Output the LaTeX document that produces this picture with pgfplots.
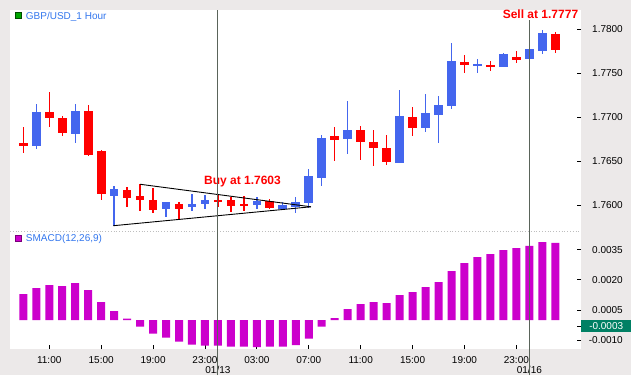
\documentclass[border=0pt]{standalone}
\usepackage{pgfplots}
\pgfplotsset{compat=1.18}
\usepackage{pgfplotstable}
\usepackage{fontspec}
\setmainfont{Liberation Sans}
\definecolor{bgcol}{RGB}{236,233,233}
\definecolor{cblue}{RGB}{68,102,238}
\definecolor{cred}{RGB}{255,0,0}
\definecolor{macd}{RGB}{204,0,204}
\definecolor{lblue}{RGB}{51,119,238}
\definecolor{vline}{RGB}{90,100,90}
\definecolor{tealbox}{RGB}{0,128,100}
\definecolor{sepcol}{RGB}{190,190,190}

\pgfplotstableread{
i o h l c
1 1.76677 1.77151 1.76643 1.77060
4 1.76814 1.77151 1.76711 1.77072
7 1.76109 1.76223 1.75768 1.76185
11 1.75955 1.76041 1.75870 1.76038
13 1.75977 1.76128 1.75939 1.76015
14 1.76018 1.76117 1.75958 1.76060
18 1.76000 1.76094 1.75958 1.76052
20 1.75961 1.76041 1.75955 1.76007
21 1.75977 1.76091 1.75916 1.76038
22 1.76023 1.76413 1.75966 1.76333
23 1.76314 1.76799 1.76223 1.76765
25 1.76757 1.77189 1.76586 1.76856
29 1.76484 1.77310 1.76480 1.77015
31 1.76882 1.77265 1.76836 1.77049
32 1.77030 1.77242 1.76711 1.77140
33 1.77132 1.77848 1.77094 1.77640
35 1.77586 1.77659 1.77507 1.77609
37 1.77575 1.77734 1.77572 1.77719
39 1.77666 1.77905 1.77628 1.77780
40 1.77757 1.77992 1.77716 1.77961
}\upcandles

\pgfplotstableread{
i o h l c
0 1.76708 1.76890 1.76598 1.76677
2 1.77064 1.77291 1.76893 1.76996
3 1.76996 1.77015 1.76791 1.76825
5 1.77072 1.77140 1.76564 1.76572
6 1.76617 1.76628 1.76060 1.76132
8 1.76170 1.76205 1.75984 1.76086
9 1.76109 1.76239 1.75939 1.76060
10 1.76060 1.76193 1.75916 1.75947
12 1.76018 1.76038 1.75841 1.75961
15 1.76061 1.76117 1.75984 1.76038
16 1.76060 1.76098 1.75927 1.75995
17 1.76012 1.76106 1.75939 1.75990
19 1.76052 1.76068 1.75958 1.75973
24 1.76791 1.76893 1.76503 1.76745
26 1.76856 1.76901 1.76518 1.76723
27 1.76719 1.76856 1.76450 1.76655
28 1.76651 1.76799 1.76458 1.76492
30 1.77003 1.77120 1.76791 1.76882
34 1.77625 1.77708 1.77507 1.77598
36 1.77598 1.77640 1.77526 1.77572
38 1.77689 1.77757 1.77621 1.77655
41 1.77947 1.77969 1.77727 1.77768
}\downcandles

\pgfplotstableread{
i v
0 0.001296
1 0.001594
2 0.001743
3 0.001694
4 0.001843
5 0.001495
6 0.000899
7 0.000452
8 0.000070
9 -0.000328
10 -0.000675
11 -0.000874
12 -0.001073
13 -0.001222
14 -0.001272
15 -0.001272
16 -0.001321
17 -0.001321
18 -0.001336
19 -0.001321
20 -0.001321
21 -0.001237
22 -0.000924
23 -0.000328
24 0.000104
25 0.000551
26 0.000800
27 0.000899
28 0.000849
29 0.001247
30 0.001396
31 0.001644
32 0.001892
33 0.002439
34 0.002836
35 0.003134
36 0.003283
37 0.003482
38 0.003581
39 0.003681
40 0.003879
41 0.003830
}\macdtable

\pgfplotsset{
  chartbase/.style={
    scale only axis, width=571pt,
    xmin=-1.025, xmax=42.98,
    axis line style={draw=none},
    tick align=inside,
    major tick length=4.5pt,
    tick style={black, line width=0.8pt},
    ytick pos=right, yticklabel pos=right,
    yticklabel style={anchor=east, inner sep=0pt, xshift=42pt},
    tick label style={font=\fontsize{10}{12}\selectfont, text=black},
    scaled y ticks=false,
    clip=false,
  },
  wick/.style={draw=none, no markers, mark size=0pt, forget plot,
    error bars/.cd, y dir=both, y explicit, error mark=none,
    error bar style={line width=1.3pt, draw=#1}},
  body/.style={draw=none, no markers, mark size=0pt, forget plot,
    error bars/.cd, y dir=both, y explicit, error mark=none,
    error bar style={line width=8.7pt, draw=#1}},
}

\begin{document}
\begin{tikzpicture}[x=1pt,y=1pt]
\useasboundingbox (0,0) rectangle (631,375);
\fill[bgcol] (0,0) rectangle (631,375);
\fill[white] (10,26) rectangle (581,365);
\draw[sepcol, dotted, line width=0.8pt] (10,143.5) -- (581,143.5);

% ---------- price panel ----------
\begin{axis}[chartbase,
  at={(10pt,144pt)}, anchor=south west, height=221pt,
  ymin=1.757079, ymax=1.782194,
  xtick=\empty,
  ytick={1.76,1.765,1.77,1.775,1.78},
  yticklabels={1.7600,1.7650,1.7700,1.7750,1.7800},
]
\addplot[wick=cblue] table[x=i, y expr={(\thisrow{h}+\thisrow{l})/2}, y error expr={(\thisrow{h}-\thisrow{l})/2}] {\upcandles};
\addplot[wick=cred] table[x=i, y expr={(\thisrow{h}+\thisrow{l})/2}, y error expr={(\thisrow{h}-\thisrow{l})/2}] {\downcandles};
\addplot[body=cblue] table[x=i, y expr={(\thisrow{o}+\thisrow{c})/2}, y error expr={(\thisrow{c}-\thisrow{o})/2}] {\upcandles};
\addplot[body=cred] table[x=i, y expr={(\thisrow{o}+\thisrow{c})/2}, y error expr={(\thisrow{o}-\thisrow{c})/2}] {\downcandles};
% triangle
\addplot[black, line width=0.9pt, forget plot] coordinates {(9,1.76239) (22.17,1.75983)};
\addplot[black, line width=0.9pt, forget plot] coordinates {(6.94,1.75768) (22.17,1.75983)};
\node[text=cred, font=\bfseries\fontsize{12}{14}\selectfont, inner sep=0pt] at (axis cs:16.89,1.76268) {Buy at 1.7603};
\end{axis}

% ---------- MACD panel ----------
\begin{axis}[chartbase,
  at={(10pt,26pt)}, anchor=south west, height=117pt,
  ymin=-0.001435, ymax=0.004376,
  ytick={-0.001,0.0005,0.002,0.0035},
  yticklabels={-0.0010,0.0005,0.0020,0.0035},
  extra y ticks={-0.0003}, extra y tick labels={},
  xtick pos=bottom, xticklabel pos=bottom,
  xtick={2,6,10,14,18,22,26,30,34,38},
  xticklabels={11:00,15:00,19:00,23:00,03:00,07:00,11:00,15:00,19:00,23:00},
  xticklabel style={yshift=-4pt},
  extra x ticks={15,39}, extra x tick labels={01/13,01/16},
  extra x tick style={major tick length=0pt, xticklabel style={yshift=-9.5pt}},
]
\addplot[ybar, bar width=8pt, fill=macd, draw=none, forget plot] table[x=i, y=v] {\macdtable};
\draw[vline, line width=0.9pt] ([yshift=-26pt]axis cs:15,-0.001435) -- ([yshift=339pt]axis cs:15,-0.001435);
\draw[vline, line width=0.9pt] ([yshift=-26pt]axis cs:39,-0.001435) -- ([yshift=329pt]axis cs:39,-0.001435);
\node[fill=tealbox, text=white, anchor=west, minimum width=50pt, minimum height=11.7pt, inner sep=0pt, font=\fontsize{10}{12}\selectfont] at (axis cs:42.98,-0.0003) {-0.0003};
\end{axis}

% Sell annotation
\node[text=cred, font=\bfseries\fontsize{12}{14}\selectfont, inner sep=0pt] at (540.5,360.3) {Sell at 1.7777};

% panel titles
\filldraw[fill=green!65!black, draw=green!30!black, line width=0.6pt] (15.7,356.7) rectangle (21,362.3);
\node[anchor=base west, inner sep=0pt, text=lblue, font=\fontsize{10}{12}\selectfont] at (25.7,355) {GBP/USD\_1 Hour};
\filldraw[fill=macd, draw=macd!60!black, line width=0.6pt] (15.7,133.3) rectangle (21,140);
\node[anchor=base west, inner sep=0pt, text=lblue, font=\fontsize{10}{12}\selectfont] at (25.7,133.3) {SMACD(12,26,9)};
\end{tikzpicture}
\end{document}
